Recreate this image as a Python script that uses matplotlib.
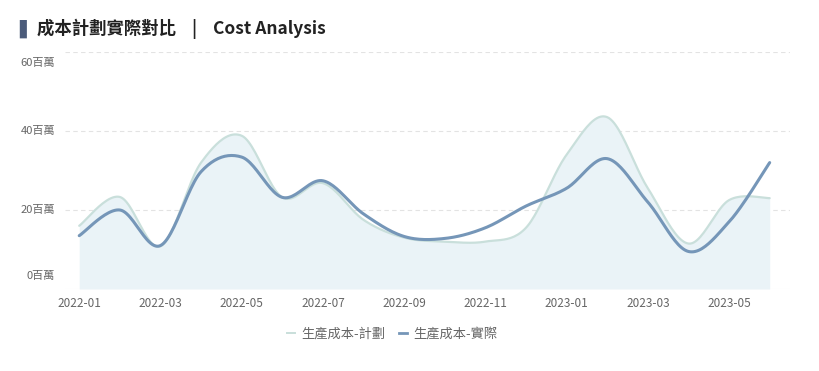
import numpy as np
import matplotlib
matplotlib.use("Agg")
import matplotlib.pyplot as plt
from matplotlib.lines import Line2D

plt.rcParams["font.family"] = ["Noto Sans CJK TC", "DejaVu Sans"]

# ---- data (millions) ----
months = ["2022-01", "2022-02", "2022-03", "2022-04", "2022-05", "2022-06",
          "2022-07", "2022-08", "2022-09", "2022-10", "2022-11", "2022-12",
          "2023-01", "2023-02", "2023-03", "2023-04", "2023-05", "2023-06"]
planned = [16, 23.3, 10.8, 32, 38.8, 23.2, 26.8, 17.5, 13, 12, 12, 15.5,
           34, 43.5, 25.5, 11.5, 22.5, 23]
actual = [13.5, 20, 11, 29.7, 33.4, 23.2, 27.4, 19, 13.3, 12.8, 15.5, 21,
          25.5, 33, 22, 9.5, 17, 32]
y_ticks = [0, 20, 40, 60]

PLAN_LINE = "#c9dfdb"
PLAN_FILL = "#eaf3f7"
ACT_LINE = "#7596b8"
TEXT = "#666666"


def smooth_curve(x, y, steps=24):
    """Catmull-Rom style bezier through the points, like a smoothed line chart."""
    x = np.asarray(x, float)
    y = np.asarray(y, float)
    n = len(x)
    xs, ys = [], []
    t = np.linspace(0, 1, steps, endpoint=False)
    for i in range(n - 1):
        p0 = np.array([x[i], y[i]])
        p3 = np.array([x[i + 1], y[i + 1]])
        prev = np.array([x[i - 1], y[i - 1]]) if i > 0 else p0
        nxt = np.array([x[i + 2], y[i + 2]]) if i + 2 < n else p3
        c1 = p0 + (p3 - prev) / 6
        c2 = p3 - (nxt - p0) / 6
        pts = ((1 - t) ** 3)[:, None] * p0 + (3 * (1 - t) ** 2 * t)[:, None] * c1 \
            + (3 * (1 - t) * t ** 2)[:, None] * c2 + (t ** 3)[:, None] * p3
        xs.extend(pts[:, 0])
        ys.extend(pts[:, 1])
    xs.append(x[-1])
    ys.append(y[-1])
    return np.array(xs), np.array(ys)


fig = plt.figure(figsize=(8.19, 3.71), dpi=100)
ax = fig.add_axes([65 / 819, 1 - 289 / 371, 725 / 819, 237 / 371])

xi = np.arange(len(months))
px, py = smooth_curve(xi, planned)
ax_, ay = smooth_curve(xi, actual)

ax.fill_between(px, 0, py, color=PLAN_FILL, lw=0, zorder=1)
ax.plot(px, py, color=PLAN_LINE, lw=1.6, zorder=2, solid_capstyle="round")
ax.plot(ax_, ay, color=ACT_LINE, lw=2.2, zorder=3, solid_capstyle="round")

ax.set_xlim(-0.35, len(months) - 0.5)
ax.set_ylim(0, 60)

for v in y_ticks[1:]:
    ax.axhline(v, color="#e3e3e3", lw=0.8, ls=(0, (4, 3)), zorder=0)
ax.axhline(0, color="#eeeeee", lw=0.8, zorder=0)

for s in ax.spines.values():
    s.set_visible(False)

ax.set_xticks(xi[::2])
ax.set_xticklabels(months[::2], fontsize=8.5, color=TEXT)
ax.set_yticks([])
ax.tick_params(axis="x", length=0, pad=6)

# y labels: the end labels sit inside the range
offsets = {0: 9, 20: 0, 40: 0, 60: -8}
for v in y_ticks:
    ax.annotate(f"{v}百萬", xy=(0, v), xycoords=("axes fraction", "data"),
                xytext=(-7, offsets[v]), textcoords="offset points",
                ha="right", va="center", fontsize=8, color=TEXT)

# title
fig.text(19 / 819, 1 - 29 / 371, "▌", fontsize=13, color="#4b5b7a",
         ha="left", va="center", family=["DejaVu Sans"])
fig.text(37 / 819, 1 - 29 / 371, "成本計劃實際對比    |    Cost Analysis",
         fontsize=12.5, fontweight="bold", color="#222222", ha="left", va="center")

handles = [Line2D([], [], color=PLAN_LINE, lw=1.4),
           Line2D([], [], color=ACT_LINE, lw=2.0)]
fig.legend(handles, ["生產成本-計劃", "生產成本-實際"], loc="center",
           bbox_to_anchor=(392 / 819, 1 - 334 / 371), ncol=2, frameon=False,
           fontsize=9.5, labelcolor=TEXT, handlelength=0.6, handletextpad=0.5,
           columnspacing=1.0)

fig.savefig("out.png", dpi=100, facecolor="white")
